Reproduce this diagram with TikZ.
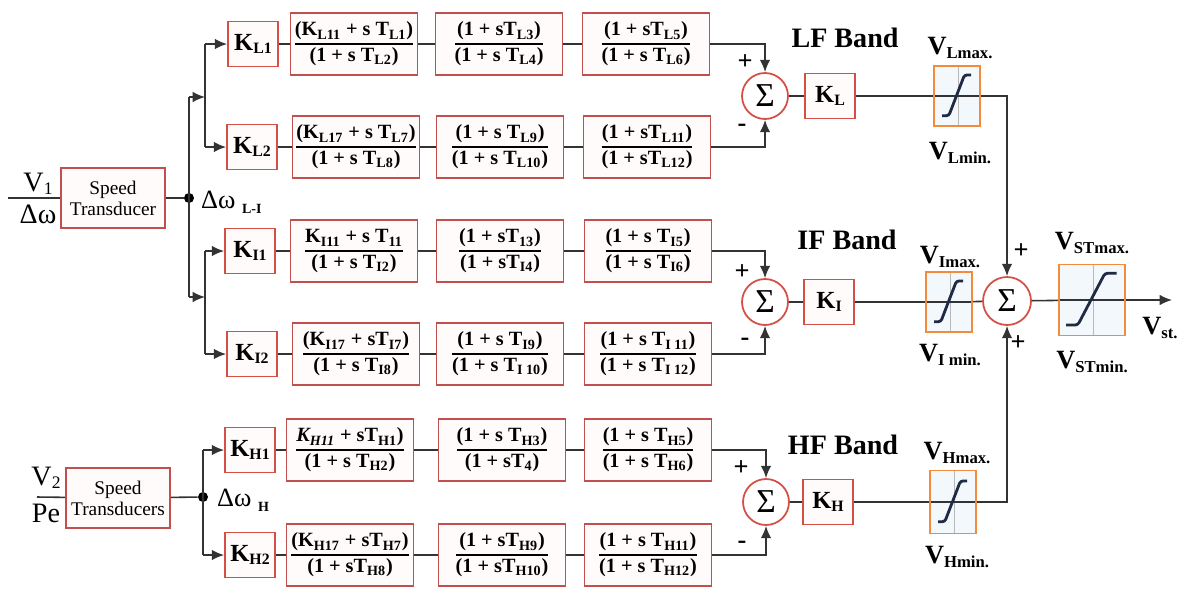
\documentclass[tikz,border=0pt]{standalone}
\usepackage{fontspec}
\setmainfont{Liberation Serif}
\usetikzlibrary{arrows.meta}

\definecolor{wire}{HTML}{333333}
\definecolor{boxred}{HTML}{C0504D}
\definecolor{boxfill}{HTML}{FFFBFA}
\definecolor{gainred}{HTML}{D44F45}
\definecolor{limorange}{HTML}{F28C3C}
\definecolor{limfill}{HTML}{F3F8FC}
\definecolor{curvecol}{HTML}{1F2A44}

\newcommand{\frc}[2]{{\setlength{\arrayrulewidth}{1.1pt}\begin{tabular}{@{}c@{}}#1\\\hline #2\end{tabular}}}
\newcommand{\Ts}[1]{T\textsubscript{#1}}
\newcommand{\Ks}[1]{K\textsubscript{#1}}
\newcommand{\gn}[1]{{\fontsize{14}{14}\selectfont\bfseries K}\raisebox{-1.5pt}{\fontsize{9}{9}\selectfont\bfseries #1}}
\newcommand{\lbl}[2]{{\fontsize{15}{15}\selectfont\bfseries #1}\raisebox{-2pt}{\fontsize{9.5}{9.5}\selectfont\bfseries #2}}

\tikzset{
  line/.style={draw=wire, line width=0.9pt},
  arr/.style={line, -{Latex[length=7pt,width=6pt]}},
  txbox/.style={draw=boxred, fill=boxfill, line width=1pt, minimum width=2.08cm, minimum height=1.2cm,
    align=center, inner sep=1pt, font=\fontsize{11}{12}\selectfont},
  fracbox/.style={draw=boxred, fill=boxfill, line width=1pt, minimum width=2.54cm, minimum height=1.24cm,
    inner sep=1pt, font=\fontsize{11.5}{13.5}\selectfont\bfseries},
  gainbox/.style={draw=gainred, fill=boxfill, line width=1pt, minimum width=1cm, minimum height=0.9cm, inner sep=0pt},
  sumnode/.style={circle, draw=gainred, fill=white, line width=1pt, minimum size=0.92cm, inner sep=0pt,
    font=\fontsize{19}{19}\selectfont},
  dot/.style={circle, fill=black, minimum size=0.2cm, inner sep=0pt},
  sign/.style={font=\fontsize{15}{15}\selectfont\bfseries, inner sep=0pt},
  band/.style={font=\fontsize{16}{16}\selectfont\bfseries},
  limbox/.style 2 args={draw=limorange, fill=limfill, line width=1pt, inner sep=0pt,
    path picture={
      \draw[gray!55, line width=0.6pt] ([xshift=1pt]path picture bounding box.north) -- ([xshift=1pt]path picture bounding box.south);
      \draw[wire, line width=0.8pt] (path picture bounding box.west) -- (path picture bounding box.east);
      \draw[curvecol, line width=1.6pt, rounded corners=1.5pt, shift={(path picture bounding box.center)}]
        ({-#1},{-0.75*#2}) -- ({-0.55*#1},{-0.75*#2}) -- ({0.5*#1},{0.8*#2}) -- ({0.95*#1},{0.8*#2});
    }}
}

\begin{document}
\begin{tikzpicture}[x=0.02cm, y=-0.02cm]
\fill[white] (0,0) rectangle (1179,592);
\useasboundingbox (0,0) rectangle (1179,592);

\coordinate (in1) at (8,198);
\coordinate (in2) at (37,497);
\node[txbox] (st1) at (113,198) {Speed\\Transducer};
\node[txbox] (st2) at (118,498) {Speed\\Transducers};
\node[font=\fontsize{16}{16}\selectfont] (v1) at (38,184) {V\raisebox{-2pt}{\fontsize{10}{10}\selectfont 1}};
\node[font=\fontsize{16}{16}\selectfont] (dw1) at (38,214) {Δω};
\node[font=\fontsize{16}{16}\selectfont] (v2) at (46,478) {V\raisebox{-2pt}{\fontsize{10}{10}\selectfont 2}};
\node[font=\fontsize{16}{16}\selectfont] (pe) at (46,513) {Pe};
\node[dot] (j1) at (189,198) {};
\node[dot] (j2) at (203,497) {};
\node[anchor=west, font=\fontsize{15}{15}\selectfont] (dwli) at (195,202) {Δω \raisebox{-3pt}{\fontsize{8}{8}\selectfont\bfseries L-I}};
\node[anchor=west, font=\fontsize{15}{15}\selectfont] (dwh) at (211,500) {Δω \raisebox{-3pt}{\fontsize{8}{8}\selectfont\bfseries H}};

\coordinate (fL) at (189,97);
\coordinate (fLr) at (205,97);
\coordinate (fI) at (189,297);
\coordinate (fIr) at (205,297);
\coordinate (bL1) at (205,44);
\coordinate (bL2) at (205,147);
\coordinate (bI1) at (205,251);
\coordinate (bI2) at (205,354);
\coordinate (bH1) at (203,450);
\coordinate (bH2) at (203,555);

\node[gainbox] (kl1) at (253,44) {\gn{L1}};
\node[gainbox] (kl2) at (252,147) {\gn{L2}};
\node[gainbox] (ki1) at (250,251) {\gn{I1}};
\node[gainbox] (ki2) at (252,354) {\gn{I2}};
\node[gainbox] (kh1) at (250,450) {\gn{H1}};
\node[gainbox] (kh2) at (250,555) {\gn{H2}};

\node[fracbox] (fl1a) at (354,44) {\frc{(\Ks{L11} + s \Ts{L1})}{(1 + s \Ts{L2})}};
\node[fracbox] (fl1b) at (499,44) {\frc{(1 + s\Ts{L3})}{(1 + s \Ts{L4})}};
\node[fracbox] (fl1c) at (646,44) {\frc{(1 + s\Ts{L5})}{(1 + s \Ts{L6})}};
\node[fracbox] (fl2a) at (356,147) {\frc{(\Ks{L17} + s \Ts{L7})}{(1 + s \Ts{L8})}};
\node[fracbox] (fl2b) at (500,147) {\frc{(1 + s \Ts{L9})}{(1 + s \Ts{L10})}};
\node[fracbox] (fl2c) at (647,147) {\frc{(1 + s\Ts{L11})}{(1 + s\Ts{L12})}};
\node[fracbox] (fi1a) at (354,251) {\frc{\Ks{I11} + s \Ts{11}}{(1 + s \Ts{I2})}};
\node[fracbox] (fi1b) at (500,251) {\frc{(1 + s\Ts{13})}{(1 + s\Ts{I4})}};
\node[fracbox] (fi1c) at (648,251) {\frc{(1 + s \Ts{I5})}{(1 + s \Ts{I6})}};
\node[fracbox] (fi2a) at (356,354) {\frc{(\Ks{I17} + s\Ts{I7})}{(1 + s \Ts{I8})}};
\node[fracbox] (fi2b) at (500,354) {\frc{(1 + s \Ts{I9})}{(1 + s \Ts{I 10})}};
\node[fracbox] (fi2c) at (648,354) {\frc{(1 + s \Ts{I 11})}{(1 + s \Ts{I 12})}};
\node[fracbox] (fh1a) at (350,450) {\frc{\textit{\Ks{H11}} + s\Ts{H1})}{(1 + s \Ts{H2})}};
\node[fracbox] (fh1b) at (502,450) {\frc{(1 + s \Ts{H3})}{(1 + s\Ts{4})}};
\node[fracbox] (fh1c) at (648,450) {\frc{(1 + s \Ts{H5})}{(1 + s \Ts{H6})}};
\node[fracbox] (fh2a) at (350,555) {\frc{(\Ks{H17} + s\Ts{H7})}{(1 + s\Ts{H8})}};
\node[fracbox] (fh2b) at (502,555) {\frc{(1 + s\Ts{H9})}{(1 + s\Ts{H10})}};
\node[fracbox] (fh2c) at (648,555) {\frc{(1 + s \Ts{H11})}{(1 + s \Ts{H12})}};

\node[sumnode] (sl) at (765,96) {Σ};
\node[sumnode] (si) at (765,302) {Σ};
\node[sumnode] (sh) at (766,502) {Σ};
\node[sumnode, minimum size=0.96cm] (stot) at (1007,301) {Σ};

\node[gainbox] (kl) at (830,96) {\gn{L}};
\node[gainbox] (ki) at (829,302) {\gn{I}};
\node[gainbox] (kh) at (828,502) {\gn{H}};

\node[limbox={8.5pt}{15pt}, minimum width=0.92cm, minimum height=1.2cm] (liml) at (957,96) {};
\node[limbox={8.5pt}{15pt}, minimum width=0.92cm, minimum height=1.2cm] (limi) at (949,302) {};
\node[limbox={8.5pt}{15pt}, minimum width=0.92cm, minimum height=1.26cm] (limh) at (953,502) {};
\node[limbox={14.7pt}{19pt}, minimum width=1.32cm, minimum height=1.42cm] (limst) at (1092,300) {};
\coordinate (vout) at (1172,300);

\node[band] (lfb) at (845,38) {LF Band};
\node[band] (ifb) at (847,240) {IF Band};
\node[band] (hfb) at (843,445) {HF Band};

\node (vlmax) at (960,48) {\lbl{V}{Lmax.}};
\node (vlmin) at (960,153) {\lbl{V}{Lmin.}};
\node (vimax) at (950,257) {\lbl{V}{Imax.}};
\node (vimin) at (950,355) {\lbl{V}{I min.}};
\node (vhmax) at (957,453) {\lbl{V}{Hmax.}};
\node (vhmin) at (957,557) {\lbl{V}{Hmin.}};
\node (vstmax) at (1092,243) {\lbl{V}{STmax.}};
\node (vstmin) at (1092,362) {\lbl{V}{STmin.}};
\node (vst) at (1160,328) {\lbl{V}{st.}};

\node[sign] (pl) at (745,62) {+};
\node[sign] (ml) at (742,128) {-};
\node[sign] (pi) at (742,272) {+};
\node[sign] (mi) at (745,342) {-};
\node[sign] (ph) at (741,468) {+};
\node[sign] (mh) at (742,545) {-};
\node[sign] (pt1) at (1021,251) {+};
\node[sign] (pt2) at (1018,343) {+};

\draw[line] (in1) -- (st1);
\draw[line] (st1) -- (j1);
\draw[line] (in2) -- (st2);
\draw[line] (st2) -- (j2);
\draw[line] (fL) -- (fI);
\draw[arr] (fL) -- (fLr);
\draw[arr] (fI) -- (fIr);
\draw[line] (bL1) -- (bL2);
\draw[line] (bI1) -- (bI2);
\draw[line] (bH1) -- (bH2);
\draw[arr] (bL1) -- (kl1);
\draw[arr] (bL2) -- (kl2);
\draw[arr] (bI1) -- (ki1);
\draw[arr] (bI2) -- (ki2);
\draw[arr] (bH1) -- (kh1);
\draw[arr] (bH2) -- (kh2);

\draw[line] (kl1) -- (fl1a) -- (fl1b) -- (fl1c);
\draw[line] (kl2) -- (fl2a) -- (fl2b) -- (fl2c);
\draw[line] (ki1) -- (fi1a) -- (fi1b) -- (fi1c);
\draw[line] (ki2) -- (fi2a) -- (fi2b) -- (fi2c);
\draw[line] (kh1) -- (fh1a) -- (fh1b) -- (fh1c);
\draw[line] (kh2) -- (fh2a) -- (fh2b) -- (fh2c);

\draw[arr] (fl1c.east) -| (sl.north);
\draw[arr] (fl2c.east) -| (sl.south);
\draw[arr] (fi1c.east) -| (si.north);
\draw[arr] (fi2c.east) -| (si.south);
\draw[arr] (fh1c.east) -| (sh.north);
\draw[arr] (fh2c.east) -| (sh.south);

\draw[line] (sl) -- (kl) -- (liml);
\draw[line] (si) -- (ki) -- (limi) -- (stot);
\draw[line] (sh) -- (kh) -- (limh);
\draw[arr] (liml.east) -| (stot.north);
\draw[arr] (limh.east) -| (stot.south);
\draw[line] (stot) -- (limst);
\draw[arr] (limst) -- (vout);
\end{tikzpicture}
\end{document}
